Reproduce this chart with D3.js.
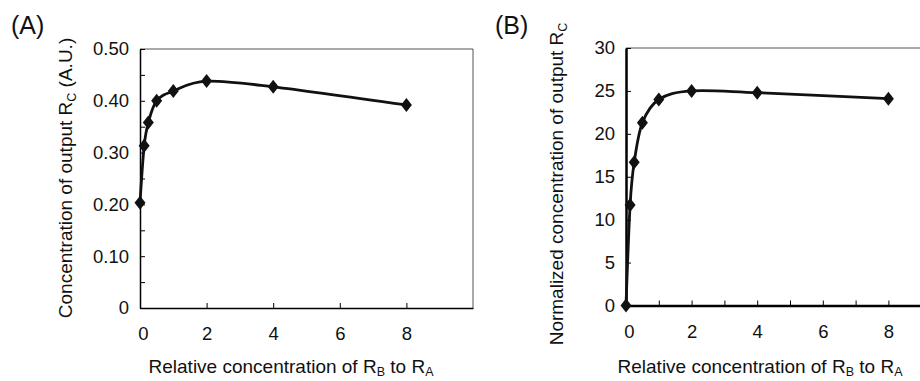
<!DOCTYPE html>
<html>
<head>
<meta charset="utf-8">
<script src="https://cdn.jsdelivr.net/npm/d3@7"></script>
<style>
  body { margin: 0; background: #fff; }
  svg { display: block; }
  text { font-family: "Liberation Sans", Arial, sans-serif; fill: #111; }
</style>
</head>
<body>
<svg id="chart" width="920" height="381"></svg>
<script>
// ratio of R_B to R_A (x values, shared by both panels)
const ratios = [0, 0.125, 0.25, 0.5, 1, 2, 4, 8];
// (A) concentration of output R_C, A.U.
const outputA = [0.203, 0.313, 0.358, 0.400, 0.419, 0.438, 0.427, 0.392];
// (B) normalized concentration of output R_C
const outputB = [0, 11.7, 16.7, 21.3, 24.0, 25.0, 24.8, 24.1];

const yTicksA = [0, 0.05, 0.1, 0.15, 0.2, 0.25, 0.3, 0.35, 0.4, 0.45, 0.5];
const yLabelsA = [0, 0.1, 0.2, 0.3, 0.4, 0.5];
const xTicksA = [2, 4, 6, 8];
const xLabels = [0, 2, 4, 6, 8];
const yTicksB = [5, 10, 15, 20, 25, 30];
const yLabelsB = [0, 5, 10, 15, 20, 25, 30];
const xTicksB = [1, 2, 3, 4, 5, 6, 7, 8, 9];

const svg = d3.select('#chart');
const diamond = 'M0,-7L5.5,0L0,7L-5.5,0Z';
const tickFont = 18.5, titleFont = 19, subFont = 12.5;

function panel(opts) {
  const x = d3.scaleLinear().domain([0, 10]).range([opts.left, opts.right]);
  const y = d3.scaleLinear().domain(opts.yDomain).range([opts.bottom, opts.top]);
  const g = svg.append('g');

  // top / right frame
  g.append('path')
    .attr('d', `M${opts.left},${opts.top}H${opts.right}V${opts.bottom}`)
    .attr('fill', 'none').attr('stroke', '#555').attr('stroke-width', 1);

  // ticks (inward)
  const yt = g.append('g').attr('transform', `translate(${opts.left},0)`)
    .call(d3.axisLeft(y).tickValues(opts.yTicks).tickSizeInner(-5).tickSizeOuter(0).tickFormat(''));
  const xt = g.append('g').attr('transform', `translate(0,${opts.bottom})`)
    .call(d3.axisBottom(x).tickValues(opts.xTicks).tickSizeInner(-5).tickSizeOuter(0).tickFormat(''));
  [yt, xt].forEach(a => {
    a.select('.domain').attr('stroke', '#000').attr('stroke-width', opts.axisWidth);
    a.selectAll('.tick line').attr('stroke', '#000').attr('stroke-width', 1);
  });

  // labels
  const yl = g.append('g').attr('transform', `translate(${opts.left},0)`)
    .call(d3.axisLeft(y).tickValues(opts.yLabels).tickSize(0).tickPadding(11).tickFormat(opts.fmt));
  const xl = g.append('g').attr('transform', `translate(0,${opts.bottom})`)
    .call(d3.axisBottom(x).tickValues(xLabels).tickSize(0).tickPadding(19));
  [yl, xl].forEach(a => {
    a.select('.domain').remove();
    a.selectAll('text').attr('font-size', tickFont).attr('font-family', null).attr('fill', '#111');
  });
  xl.selectAll('.tick').filter(d => d === 0).select('text').attr('x', 3);

  // series line + markers
  const pts = ratios.map((r, i) => [r, opts.values[i]]);
  g.append('path')
    .datum(pts)
    .attr('fill', 'none').attr('stroke', '#111').attr('stroke-width', 2.8)
    .attr('stroke-linejoin', 'round')
    .attr('d', d3.line().x(d => x(d[0])).y(d => y(d[1])).curve(d3.curveCatmullRom.alpha(0)));
  g.selectAll('path.mark').data(pts).enter().append('path')
    .attr('class', 'mark')
    .attr('d', diamond)
    .attr('fill', '#111')
    .attr('transform', d => `translate(${x(d[0])},${y(d[1])})`);

  // panel letter
  g.append('text').attr('x', opts.letterX).attr('y', 34).attr('font-size', 25).text(opts.letter);

  // y title
  const yTitle = g.append('text')
    .attr('transform', `translate(${opts.yTitleX},${opts.yTitleY}) rotate(-90)`)
    .attr('text-anchor', 'middle').attr('font-size', titleFont);
  yTitle.append('tspan').text(opts.yTitle[0]);
  yTitle.append('tspan').attr('font-size', subFont).attr('dy', 4).text('C');
  yTitle.append('tspan').attr('dy', -4).text(opts.yTitle[1]);

  // x title
  const xTitle = g.append('text')
    .attr('x', opts.xTitleX).attr('y', 373)
    .attr('text-anchor', 'middle').attr('font-size', titleFont);
  xTitle.append('tspan').text('Relative concentration of R');
  xTitle.append('tspan').attr('font-size', subFont).attr('dy', 3).text('B');
  xTitle.append('tspan').attr('dy', -3).text(' to R');
  xTitle.append('tspan').attr('font-size', subFont).attr('dy', 3).text('A');
}

panel({
  left: 140, right: 473, top: 49, bottom: 308,
  yDomain: [0, 0.5], yTicks: yTicksA, yLabels: yLabelsA, xTicks: xTicksA,
  fmt: d => d === 0 ? '0' : d3.format('.2f')(d),
  values: outputA, axisWidth: 1.5,
  letter: '(A)', letterX: 11,
  yTitle: ['Concentration of output R', ' (A.U.)'], yTitleX: 72, yTitleY: 178,
  xTitleX: 291
});

panel({
  left: 626, right: 954, top: 48, bottom: 305.5,
  yDomain: [0, 30], yTicks: yTicksB, yLabels: yLabelsB, xTicks: xTicksB,
  fmt: d3.format('d'),
  values: outputB, axisWidth: 2.5,
  letter: '(B)', letterX: 495,
  yTitle: ['Normalized concentration of output R', ''], yTitleX: 563, yTitleY: 184,
  xTitleX: 760
});
</script>
</body>
</html>
